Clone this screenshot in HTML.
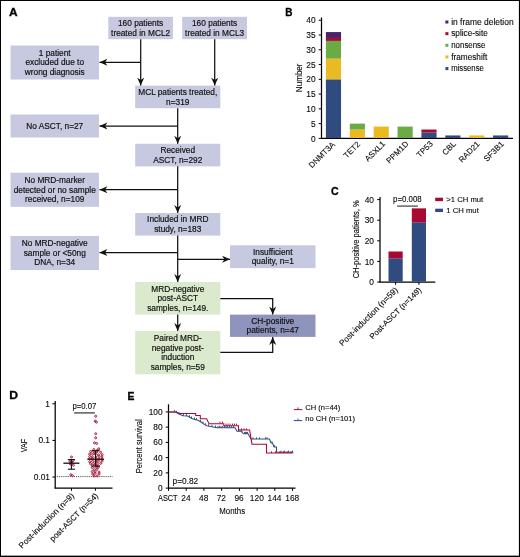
<!DOCTYPE html>
<html lang="en"><head><meta charset="utf-8"><title>Figure</title>
<style>html,body{margin:0;padding:0;background:#fff}svg{display:block}text{font-family:"Liberation Sans", sans-serif}</style>
</head><body>
<svg width="520" height="557" viewBox="0 0 520 557" font-family='"Liberation Sans", sans-serif'>
<rect x="0" y="0" width="520" height="557" fill="#fff"/>
<rect x="0.00" y="0.00" width="520.00" height="1.00" fill="#000"/>
<rect x="0.00" y="0.00" width="1.00" height="557.00" fill="#000"/>
<rect x="518.90" y="0.00" width="1.10" height="557.00" fill="#000"/>
<rect x="0.00" y="555.65" width="520.00" height="1.35" fill="#000"/>
<text x="0" y="0" transform="translate(8.90 16.30) scale(1.08 1)" font-size="11.05" text-anchor="start" font-weight="bold" fill="#000" stroke="#000" stroke-width="0.3">A</text>
<text x="0" y="0" transform="translate(285.30 16.05) scale(0.905 1)" font-size="11.05" text-anchor="start" font-weight="bold" fill="#000" stroke="#000" stroke-width="0.3">B</text>
<text x="0" y="0" transform="translate(331.00 194.90) scale(0.96 1)" font-size="11.05" text-anchor="start" font-weight="bold" fill="#000" stroke="#000" stroke-width="0.3">C</text>
<text x="0" y="0" transform="translate(9.25 399.40) scale(1.1 1)" font-size="11.05" text-anchor="start" font-weight="bold" fill="#000" stroke="#000" stroke-width="0.3">D</text>
<text x="0" y="0" transform="translate(127.50 399.70) scale(0.94 1)" font-size="11.05" text-anchor="start" font-weight="bold" fill="#000" stroke="#000" stroke-width="0.3">E</text>
<rect x="108.30" y="16.80" width="64.60" height="22.40" fill="#c6c9df"/>
<text x="140.60" y="26.18" font-size="8.3" text-anchor="middle" font-weight="normal" fill="#111" stroke="#111" stroke-width="0.18">160 patients</text>
<text x="140.60" y="35.63" font-size="8.3" text-anchor="middle" font-weight="normal" fill="#111" stroke="#111" stroke-width="0.18">treated in MCL2</text>
<rect x="182.20" y="16.80" width="64.80" height="22.40" fill="#c6c9df"/>
<text x="214.60" y="26.18" font-size="8.3" text-anchor="middle" font-weight="normal" fill="#111" stroke="#111" stroke-width="0.18">160 patients</text>
<text x="214.60" y="35.63" font-size="8.3" text-anchor="middle" font-weight="normal" fill="#111" stroke="#111" stroke-width="0.18">treated in MCL3</text>
<rect x="10.50" y="45.50" width="88.50" height="34.00" fill="#c6c9df"/>
<text x="54.75" y="55.95" font-size="8.3" text-anchor="middle" font-weight="normal" fill="#111" stroke="#111" stroke-width="0.18">1 patient</text>
<text x="54.75" y="65.41" font-size="8.3" text-anchor="middle" font-weight="normal" fill="#111" stroke="#111" stroke-width="0.18">excluded due to</text>
<text x="54.75" y="74.86" font-size="8.3" text-anchor="middle" font-weight="normal" fill="#111" stroke="#111" stroke-width="0.18">wrong diagnosis</text>
<rect x="135.20" y="85.60" width="85.10" height="22.60" fill="#c6c9df"/>
<text x="177.75" y="95.08" font-size="8.3" text-anchor="middle" font-weight="normal" fill="#111" stroke="#111" stroke-width="0.18">MCL patients treated,</text>
<text x="177.75" y="104.53" font-size="8.3" text-anchor="middle" font-weight="normal" fill="#111" stroke="#111" stroke-width="0.18">n=319</text>
<rect x="10.50" y="114.50" width="88.50" height="23.00" fill="#c6c9df"/>
<text x="54.75" y="128.91" font-size="8.3" text-anchor="middle" font-weight="normal" fill="#111" stroke="#111" stroke-width="0.18">No ASCT, n=27</text>
<rect x="135.20" y="143.75" width="85.10" height="22.65" fill="#c6c9df"/>
<text x="177.75" y="153.25" font-size="8.3" text-anchor="middle" font-weight="normal" fill="#111" stroke="#111" stroke-width="0.18">Received</text>
<text x="177.75" y="162.70" font-size="8.3" text-anchor="middle" font-weight="normal" fill="#111" stroke="#111" stroke-width="0.18">ASCT, n=292</text>
<rect x="10.50" y="172.70" width="88.50" height="34.10" fill="#c6c9df"/>
<text x="54.75" y="183.21" font-size="8.3" text-anchor="middle" font-weight="normal" fill="#111" stroke="#111" stroke-width="0.18">No MRD-marker</text>
<text x="54.75" y="192.66" font-size="8.3" text-anchor="middle" font-weight="normal" fill="#111" stroke="#111" stroke-width="0.18">detected or no sample</text>
<text x="54.75" y="202.10" font-size="8.3" text-anchor="middle" font-weight="normal" fill="#111" stroke="#111" stroke-width="0.18">received, n=109</text>
<rect x="135.20" y="213.00" width="85.10" height="22.60" fill="#c6c9df"/>
<text x="177.75" y="222.48" font-size="8.3" text-anchor="middle" font-weight="normal" fill="#111" stroke="#111" stroke-width="0.18">Included in MRD</text>
<text x="177.75" y="231.93" font-size="8.3" text-anchor="middle" font-weight="normal" fill="#111" stroke="#111" stroke-width="0.18">study, n=183</text>
<rect x="10.50" y="236.00" width="88.50" height="34.00" fill="#c6c9df"/>
<text x="54.75" y="246.46" font-size="8.3" text-anchor="middle" font-weight="normal" fill="#111" stroke="#111" stroke-width="0.18">No MRD-negative</text>
<text x="54.75" y="255.91" font-size="8.3" text-anchor="middle" font-weight="normal" fill="#111" stroke="#111" stroke-width="0.18">sample or &lt;50ng</text>
<text x="54.75" y="265.35" font-size="8.3" text-anchor="middle" font-weight="normal" fill="#111" stroke="#111" stroke-width="0.18">DNA, n=34</text>
<rect x="230.00" y="245.30" width="85.50" height="22.80" fill="#c6c9df"/>
<text x="272.75" y="254.88" font-size="8.3" text-anchor="middle" font-weight="normal" fill="#111" stroke="#111" stroke-width="0.18">Insufficient</text>
<text x="272.75" y="264.33" font-size="8.3" text-anchor="middle" font-weight="normal" fill="#111" stroke="#111" stroke-width="0.18">quality, n=1</text>
<rect x="135.20" y="282.00" width="85.10" height="32.60" fill="#dbe9cd"/>
<text x="177.75" y="291.75" font-size="8.3" text-anchor="middle" font-weight="normal" fill="#111" stroke="#111" stroke-width="0.18">MRD-negative</text>
<text x="177.75" y="301.20" font-size="8.3" text-anchor="middle" font-weight="normal" fill="#111" stroke="#111" stroke-width="0.18">post-ASCT</text>
<text x="177.75" y="310.65" font-size="8.3" text-anchor="middle" font-weight="normal" fill="#111" stroke="#111" stroke-width="0.18">samples, n=149.</text>
<rect x="230.00" y="314.60" width="85.50" height="22.30" fill="#8f94bc"/>
<text x="272.75" y="323.93" font-size="8.3" text-anchor="middle" font-weight="normal" fill="#111" stroke="#111" stroke-width="0.18">CH-positive</text>
<text x="272.75" y="333.38" font-size="8.3" text-anchor="middle" font-weight="normal" fill="#111" stroke="#111" stroke-width="0.18">patients, n=47</text>
<rect x="135.20" y="331.00" width="85.10" height="43.30" fill="#dbe9cd"/>
<text x="177.75" y="341.38" font-size="8.3" text-anchor="middle" font-weight="normal" fill="#111" stroke="#111" stroke-width="0.18">Paired MRD-</text>
<text x="177.75" y="350.83" font-size="8.3" text-anchor="middle" font-weight="normal" fill="#111" stroke="#111" stroke-width="0.18">negative post-</text>
<text x="177.75" y="360.28" font-size="8.3" text-anchor="middle" font-weight="normal" fill="#111" stroke="#111" stroke-width="0.18">induction</text>
<text x="177.75" y="369.73" font-size="8.3" text-anchor="middle" font-weight="normal" fill="#111" stroke="#111" stroke-width="0.18">samples, n=59</text>
<path d="M140.70 39.20 L140.70 85.60" stroke="#111" stroke-width="1.25" fill="none"/>
<path d="M140.70 85.60 L137.20 77.70 L140.70 80.00 L144.20 77.70Z" fill="#111"/>
<path d="M214.70 39.20 L214.70 85.60" stroke="#111" stroke-width="1.25" fill="none"/>
<path d="M214.70 85.60 L211.20 77.70 L214.70 80.00 L218.20 77.70Z" fill="#111"/>
<path d="M140.70 62.30 L99.50 62.30" stroke="#111" stroke-width="1.25" fill="none"/>
<path d="M99.50 62.30 L107.40 58.80 L105.10 62.30 L107.40 65.80Z" fill="#111"/>
<path d="M177.70 108.20 L177.70 143.75" stroke="#111" stroke-width="1.25" fill="none"/>
<path d="M177.70 143.75 L174.20 135.85 L177.70 138.15 L181.20 135.85Z" fill="#111"/>
<path d="M177.70 126.00 L99.50 126.00" stroke="#111" stroke-width="1.25" fill="none"/>
<path d="M99.50 126.00 L107.40 122.50 L105.10 126.00 L107.40 129.50Z" fill="#111"/>
<path d="M177.70 166.30 L177.70 213.00" stroke="#111" stroke-width="1.25" fill="none"/>
<path d="M177.70 213.00 L174.20 205.10 L177.70 207.40 L181.20 205.10Z" fill="#111"/>
<path d="M177.70 189.70 L99.50 189.70" stroke="#111" stroke-width="1.25" fill="none"/>
<path d="M99.50 189.70 L107.40 186.20 L105.10 189.70 L107.40 193.20Z" fill="#111"/>
<path d="M177.70 235.60 L177.70 282.00" stroke="#111" stroke-width="1.25" fill="none"/>
<path d="M177.70 282.00 L174.20 274.10 L177.70 276.40 L181.20 274.10Z" fill="#111"/>
<path d="M177.70 252.60 L99.50 252.60" stroke="#111" stroke-width="1.25" fill="none"/>
<path d="M99.50 252.60 L107.40 249.10 L105.10 252.60 L107.40 256.10Z" fill="#111"/>
<path d="M177.70 259.30 L230.00 259.30" stroke="#111" stroke-width="1.25" fill="none"/>
<path d="M230.00 259.30 L222.10 262.80 L224.40 259.30 L222.10 255.80Z" fill="#111"/>
<path d="M177.70 314.60 L177.70 331.00" stroke="#111" stroke-width="1.25" fill="none"/>
<path d="M177.70 331.00 L174.20 323.10 L177.70 325.40 L181.20 323.10Z" fill="#111"/>
<path d="M220.30 298.70 L272.70 298.70 L272.70 314.60" stroke="#111" stroke-width="1.25" fill="none"/>
<path d="M272.70 314.60 L269.20 306.70 L272.70 309.00 L276.20 306.70Z" fill="#111"/>
<path d="M220.30 352.30 L272.70 352.30 L272.70 337.00" stroke="#111" stroke-width="1.25" fill="none"/>
<path d="M272.70 337.00 L276.20 344.90 L272.70 342.60 L269.20 344.90Z" fill="#111"/>
<line x1="321.50" y1="17.50" x2="321.50" y2="138.90" stroke="#000" stroke-width="1.25"/>
<line x1="321.00" y1="138.40" x2="513.00" y2="138.40" stroke="#000" stroke-width="1.25"/>
<line x1="318.70" y1="138.40" x2="321.50" y2="138.40" stroke="#000" stroke-width="1"/>
<text x="0" y="0" transform="translate(315.60 141.50) scale(0.94 1)" font-size="8.9" text-anchor="end" font-weight="normal" fill="#0a0a0a" stroke="#0a0a0a" stroke-width="0.12">0</text>
<line x1="318.70" y1="123.63" x2="321.50" y2="123.63" stroke="#000" stroke-width="1"/>
<text x="0" y="0" transform="translate(315.60 126.73) scale(0.94 1)" font-size="8.9" text-anchor="end" font-weight="normal" fill="#0a0a0a" stroke="#0a0a0a" stroke-width="0.12">5</text>
<line x1="318.70" y1="108.86" x2="321.50" y2="108.86" stroke="#000" stroke-width="1"/>
<text x="0" y="0" transform="translate(315.60 111.96) scale(0.94 1)" font-size="8.9" text-anchor="end" font-weight="normal" fill="#0a0a0a" stroke="#0a0a0a" stroke-width="0.12">10</text>
<line x1="318.70" y1="94.09" x2="321.50" y2="94.09" stroke="#000" stroke-width="1"/>
<text x="0" y="0" transform="translate(315.60 97.19) scale(0.94 1)" font-size="8.9" text-anchor="end" font-weight="normal" fill="#0a0a0a" stroke="#0a0a0a" stroke-width="0.12">15</text>
<line x1="318.70" y1="79.32" x2="321.50" y2="79.32" stroke="#000" stroke-width="1"/>
<text x="0" y="0" transform="translate(315.60 82.42) scale(0.94 1)" font-size="8.9" text-anchor="end" font-weight="normal" fill="#0a0a0a" stroke="#0a0a0a" stroke-width="0.12">20</text>
<line x1="318.70" y1="64.55" x2="321.50" y2="64.55" stroke="#000" stroke-width="1"/>
<text x="0" y="0" transform="translate(315.60 67.65) scale(0.94 1)" font-size="8.9" text-anchor="end" font-weight="normal" fill="#0a0a0a" stroke="#0a0a0a" stroke-width="0.12">25</text>
<line x1="318.70" y1="49.78" x2="321.50" y2="49.78" stroke="#000" stroke-width="1"/>
<text x="0" y="0" transform="translate(315.60 52.88) scale(0.94 1)" font-size="8.9" text-anchor="end" font-weight="normal" fill="#0a0a0a" stroke="#0a0a0a" stroke-width="0.12">30</text>
<line x1="318.70" y1="35.01" x2="321.50" y2="35.01" stroke="#000" stroke-width="1"/>
<text x="0" y="0" transform="translate(315.60 38.11) scale(0.94 1)" font-size="8.9" text-anchor="end" font-weight="normal" fill="#0a0a0a" stroke="#0a0a0a" stroke-width="0.12">35</text>
<line x1="318.70" y1="20.24" x2="321.50" y2="20.24" stroke="#000" stroke-width="1"/>
<text x="0" y="0" transform="translate(315.60 23.34) scale(0.94 1)" font-size="8.9" text-anchor="end" font-weight="normal" fill="#0a0a0a" stroke="#0a0a0a" stroke-width="0.12">40</text>
<text x="0" y="0" transform="translate(301.80 77.80) rotate(-90) scale(0.85 1)" font-size="9.5" text-anchor="middle" font-weight="normal" fill="#0a0a0a" stroke="#0a0a0a" stroke-width="0.12">Number</text>
<rect x="325.90" y="79.32" width="15.15" height="58.68" fill="#2f4b7f"/>
<rect x="325.90" y="58.64" width="15.15" height="20.68" fill="#e9ba22"/>
<rect x="325.90" y="40.92" width="15.15" height="17.72" fill="#6bab46"/>
<rect x="325.90" y="37.96" width="15.15" height="2.95" fill="#a9082f"/>
<rect x="325.90" y="32.06" width="15.15" height="5.91" fill="#4c2169"/>
<text x="0" y="0" transform="translate(335.50 145.10) rotate(-45)" font-size="8.05" text-anchor="end" font-weight="normal" fill="#0a0a0a" stroke="#0a0a0a" stroke-width="0.12">DNMT3A</text>
<rect x="349.78" y="129.54" width="15.15" height="8.46" fill="#e9ba22"/>
<rect x="349.78" y="123.63" width="15.15" height="5.91" fill="#6bab46"/>
<text x="0" y="0" transform="translate(360.58 144.74) rotate(-45)" font-size="8.05" text-anchor="end" font-weight="normal" fill="#0a0a0a" stroke="#0a0a0a" stroke-width="0.12">TET2</text>
<rect x="373.66" y="126.58" width="15.15" height="11.42" fill="#e9ba22"/>
<text x="0" y="0" transform="translate(385.76 144.35) rotate(-45)" font-size="8.05" text-anchor="end" font-weight="normal" fill="#0a0a0a" stroke="#0a0a0a" stroke-width="0.12">ASXL1</text>
<rect x="397.54" y="126.58" width="15.15" height="11.42" fill="#6bab46"/>
<text x="0" y="0" transform="translate(409.14 144.50) rotate(-45)" font-size="8.05" text-anchor="end" font-weight="normal" fill="#0a0a0a" stroke="#0a0a0a" stroke-width="0.12">PPM1D</text>
<rect x="421.42" y="132.49" width="15.15" height="5.51" fill="#2f4b7f"/>
<rect x="421.42" y="129.54" width="15.15" height="2.95" fill="#a9082f"/>
<text x="0" y="0" transform="translate(433.32 144.41) rotate(-45)" font-size="8.05" text-anchor="end" font-weight="normal" fill="#0a0a0a" stroke="#0a0a0a" stroke-width="0.12">TP53</text>
<rect x="445.30" y="135.45" width="15.15" height="2.55" fill="#2f4b7f"/>
<text x="0" y="0" transform="translate(456.50 144.62) rotate(-45)" font-size="8.05" text-anchor="end" font-weight="normal" fill="#0a0a0a" stroke="#0a0a0a" stroke-width="0.12">CBL</text>
<rect x="469.18" y="135.45" width="15.15" height="2.55" fill="#e9ba22"/>
<text x="0" y="0" transform="translate(480.28 144.65) rotate(-45)" font-size="8.05" text-anchor="end" font-weight="normal" fill="#0a0a0a" stroke="#0a0a0a" stroke-width="0.12">RAD21</text>
<rect x="493.06" y="135.45" width="15.15" height="2.55" fill="#2f4b7f"/>
<text x="0" y="0" transform="translate(504.46 144.56) rotate(-45)" font-size="8.05" text-anchor="end" font-weight="normal" fill="#0a0a0a" stroke="#0a0a0a" stroke-width="0.12">SF3B1</text>
<rect x="445.40" y="20.50" width="3.00" height="3.00" fill="#4c2169"/>
<text x="0" y="0" transform="translate(451.20 24.80) scale(1.0 1)" font-size="8.45" text-anchor="start" font-weight="normal" fill="#0a0a0a" stroke="#0a0a0a" stroke-width="0.12">in frame deletion</text>
<rect x="445.40" y="32.15" width="3.00" height="3.00" fill="#a9082f"/>
<text x="0" y="0" transform="translate(451.20 36.45) scale(0.975 1)" font-size="8.45" text-anchor="start" font-weight="normal" fill="#0a0a0a" stroke="#0a0a0a" stroke-width="0.12">splice-site</text>
<rect x="445.40" y="43.80" width="3.00" height="3.00" fill="#6bab46"/>
<text x="0" y="0" transform="translate(451.20 48.10) scale(0.936 1)" font-size="8.45" text-anchor="start" font-weight="normal" fill="#0a0a0a" stroke="#0a0a0a" stroke-width="0.12">nonsense</text>
<rect x="445.40" y="55.45" width="3.00" height="3.00" fill="#e9ba22"/>
<text x="0" y="0" transform="translate(451.20 59.75) scale(0.975 1)" font-size="8.45" text-anchor="start" font-weight="normal" fill="#0a0a0a" stroke="#0a0a0a" stroke-width="0.12">frameshift</text>
<rect x="445.40" y="67.10" width="3.00" height="3.00" fill="#2f4b7f"/>
<text x="0" y="0" transform="translate(451.20 71.40) scale(0.915 1)" font-size="8.45" text-anchor="start" font-weight="normal" fill="#0a0a0a" stroke="#0a0a0a" stroke-width="0.12">missense</text>
<line x1="380.00" y1="196.90" x2="380.00" y2="282.50" stroke="#000" stroke-width="1.25"/>
<line x1="379.50" y1="282.00" x2="435.30" y2="282.00" stroke="#000" stroke-width="1.25"/>
<line x1="377.20" y1="282.00" x2="380.00" y2="282.00" stroke="#000" stroke-width="1"/>
<text x="0" y="0" transform="translate(374.00 285.10) scale(0.94 1)" font-size="8.9" text-anchor="end" font-weight="normal" fill="#0a0a0a" stroke="#0a0a0a" stroke-width="0.12">0</text>
<line x1="377.20" y1="261.40" x2="380.00" y2="261.40" stroke="#000" stroke-width="1"/>
<text x="0" y="0" transform="translate(374.00 264.50) scale(0.94 1)" font-size="8.9" text-anchor="end" font-weight="normal" fill="#0a0a0a" stroke="#0a0a0a" stroke-width="0.12">10</text>
<line x1="377.20" y1="240.80" x2="380.00" y2="240.80" stroke="#000" stroke-width="1"/>
<text x="0" y="0" transform="translate(374.00 243.90) scale(0.94 1)" font-size="8.9" text-anchor="end" font-weight="normal" fill="#0a0a0a" stroke="#0a0a0a" stroke-width="0.12">20</text>
<line x1="377.20" y1="220.20" x2="380.00" y2="220.20" stroke="#000" stroke-width="1"/>
<text x="0" y="0" transform="translate(374.00 223.30) scale(0.94 1)" font-size="8.9" text-anchor="end" font-weight="normal" fill="#0a0a0a" stroke="#0a0a0a" stroke-width="0.12">30</text>
<line x1="377.20" y1="199.60" x2="380.00" y2="199.60" stroke="#000" stroke-width="1"/>
<text x="0" y="0" transform="translate(374.00 202.70) scale(0.94 1)" font-size="8.9" text-anchor="end" font-weight="normal" fill="#0a0a0a" stroke="#0a0a0a" stroke-width="0.12">40</text>
<text x="0" y="0" transform="translate(358.50 239.30) rotate(-90) scale(0.79 1)" font-size="9.5" text-anchor="middle" font-weight="normal" fill="#0a0a0a" stroke="#0a0a0a" stroke-width="0.12">CH-positive patients, %</text>
<rect x="388.50" y="258.31" width="14.20" height="23.29" fill="#2f4b7f"/>
<rect x="388.50" y="251.51" width="14.20" height="6.80" fill="#a9082f"/>
<line x1="395.60" y1="282.00" x2="395.60" y2="284.80" stroke="#000" stroke-width="1"/>
<text x="0" y="0" transform="translate(398.50 290.60) rotate(-45)" font-size="8.3" text-anchor="end" font-weight="normal" fill="#0a0a0a" stroke="#0a0a0a" stroke-width="0.12">Post-induction (n=59)</text>
<rect x="411.80" y="222.26" width="14.20" height="59.34" fill="#2f4b7f"/>
<rect x="411.80" y="208.36" width="14.20" height="13.90" fill="#a9082f"/>
<line x1="418.90" y1="282.00" x2="418.90" y2="284.80" stroke="#000" stroke-width="1"/>
<text x="0" y="0" transform="translate(421.80 290.60) rotate(-45)" font-size="7.95" text-anchor="end" font-weight="normal" fill="#0a0a0a" stroke="#0a0a0a" stroke-width="0.12">Post-ASCT (n=149)</text>
<text x="0" y="0" transform="translate(407.40 202.20) scale(0.935 1)" font-size="8.4" text-anchor="middle" font-weight="normal" fill="#0a0a0a" stroke="#0a0a0a" stroke-width="0.12">p=0.008</text>
<line x1="397.10" y1="206.10" x2="417.90" y2="206.10" stroke="#5a5a5a" stroke-width="1.4"/>
<rect x="435.20" y="197.70" width="7.80" height="3.40" fill="#a9082f"/>
<text x="446.30" y="202.20" font-size="7.7" text-anchor="start" font-weight="normal" fill="#0a0a0a" stroke="#0a0a0a" stroke-width="0.12">&gt;1 CH mut</text>
<rect x="435.20" y="208.70" width="7.80" height="3.30" fill="#2f4b7f"/>
<text x="446.30" y="213.00" font-size="7.7" text-anchor="start" font-weight="normal" fill="#0a0a0a" stroke="#0a0a0a" stroke-width="0.12">1 CH mut</text>
<line x1="55.20" y1="401.00" x2="55.20" y2="488.50" stroke="#000" stroke-width="1.25"/>
<line x1="54.70" y1="488.00" x2="112.50" y2="488.00" stroke="#000" stroke-width="1.25"/>
<line x1="52.40" y1="403.80" x2="55.20" y2="403.80" stroke="#000" stroke-width="1"/>
<text x="0" y="0" transform="translate(50.00 406.50) scale(0.94 1)" font-size="8.9" text-anchor="end" font-weight="normal" fill="#0a0a0a" stroke="#0a0a0a" stroke-width="0.12">1</text>
<line x1="52.40" y1="440.40" x2="55.20" y2="440.40" stroke="#000" stroke-width="1"/>
<text x="0" y="0" transform="translate(50.00 443.10) scale(0.94 1)" font-size="8.9" text-anchor="end" font-weight="normal" fill="#0a0a0a" stroke="#0a0a0a" stroke-width="0.12">0.1</text>
<line x1="52.40" y1="477.00" x2="55.20" y2="477.00" stroke="#000" stroke-width="1"/>
<text x="0" y="0" transform="translate(50.00 479.70) scale(0.94 1)" font-size="8.9" text-anchor="end" font-weight="normal" fill="#0a0a0a" stroke="#0a0a0a" stroke-width="0.12">0.01</text>
<line x1="57.00" y1="476.60" x2="112.50" y2="476.60" stroke="#333" stroke-width="1.0" stroke-dasharray="0.9 1.0"/>
<text x="0" y="0" transform="translate(26.90 445.50) rotate(-90) scale(0.78 1)" font-size="9.3" text-anchor="middle" font-weight="normal" fill="#0a0a0a" stroke="#0a0a0a" stroke-width="0.12">VAF</text>
<circle cx="71.50" cy="457.00" r="1.0" fill="#f3c9d2" fill-opacity="0.4" stroke="#a50d30" stroke-width="0.9"/>
<circle cx="70.10" cy="461.30" r="1.0" fill="#f3c9d2" fill-opacity="0.4" stroke="#a50d30" stroke-width="0.9"/>
<circle cx="73.00" cy="460.70" r="1.0" fill="#f3c9d2" fill-opacity="0.4" stroke="#a50d30" stroke-width="0.9"/>
<circle cx="71.10" cy="462.50" r="1.0" fill="#f3c9d2" fill-opacity="0.4" stroke="#a50d30" stroke-width="0.9"/>
<circle cx="73.40" cy="465.30" r="1.0" fill="#f3c9d2" fill-opacity="0.4" stroke="#a50d30" stroke-width="0.9"/>
<circle cx="70.80" cy="474.70" r="1.0" fill="#f3c9d2" fill-opacity="0.4" stroke="#a50d30" stroke-width="0.9"/>
<circle cx="72.50" cy="475.70" r="1.0" fill="#f3c9d2" fill-opacity="0.4" stroke="#a50d30" stroke-width="0.9"/>
<circle cx="70.40" cy="464.00" r="1.0" fill="#f3c9d2" fill-opacity="0.4" stroke="#a50d30" stroke-width="0.9"/>
<circle cx="72.20" cy="463.20" r="1.0" fill="#f3c9d2" fill-opacity="0.4" stroke="#a50d30" stroke-width="0.9"/>
<circle cx="95.70" cy="416.20" r="1.0" fill="#f3c9d2" fill-opacity="0.4" stroke="#a50d30" stroke-width="0.9"/>
<circle cx="95.20" cy="421.10" r="1.0" fill="#f3c9d2" fill-opacity="0.4" stroke="#a50d30" stroke-width="0.9"/>
<circle cx="96.40" cy="422.20" r="1.0" fill="#f3c9d2" fill-opacity="0.4" stroke="#a50d30" stroke-width="0.9"/>
<circle cx="95.70" cy="433.70" r="1.0" fill="#f3c9d2" fill-opacity="0.4" stroke="#a50d30" stroke-width="0.9"/>
<circle cx="95.70" cy="437.80" r="1.0" fill="#f3c9d2" fill-opacity="0.4" stroke="#a50d30" stroke-width="0.9"/>
<circle cx="94.50" cy="442.80" r="1.0" fill="#f3c9d2" fill-opacity="0.4" stroke="#a50d30" stroke-width="0.9"/>
<circle cx="96.70" cy="443.50" r="1.0" fill="#f3c9d2" fill-opacity="0.4" stroke="#a50d30" stroke-width="0.9"/>
<circle cx="98.80" cy="448.80" r="1.0" fill="#f3c9d2" fill-opacity="0.4" stroke="#a50d30" stroke-width="0.9"/>
<circle cx="93.80" cy="449.50" r="1.0" fill="#f3c9d2" fill-opacity="0.4" stroke="#a50d30" stroke-width="0.9"/>
<circle cx="97.40" cy="450.30" r="1.0" fill="#f3c9d2" fill-opacity="0.4" stroke="#a50d30" stroke-width="0.9"/>
<circle cx="90.69" cy="451.60" r="1.0" fill="#f3c9d2" fill-opacity="0.4" stroke="#a50d30" stroke-width="0.9"/>
<circle cx="93.95" cy="451.65" r="1.0" fill="#f3c9d2" fill-opacity="0.4" stroke="#a50d30" stroke-width="0.9"/>
<circle cx="96.72" cy="451.90" r="1.0" fill="#f3c9d2" fill-opacity="0.4" stroke="#a50d30" stroke-width="0.9"/>
<circle cx="100.67" cy="452.30" r="1.0" fill="#f3c9d2" fill-opacity="0.4" stroke="#a50d30" stroke-width="0.9"/>
<circle cx="89.67" cy="454.12" r="1.0" fill="#f3c9d2" fill-opacity="0.4" stroke="#a50d30" stroke-width="0.9"/>
<circle cx="92.54" cy="454.18" r="1.0" fill="#f3c9d2" fill-opacity="0.4" stroke="#a50d30" stroke-width="0.9"/>
<circle cx="95.27" cy="454.01" r="1.0" fill="#f3c9d2" fill-opacity="0.4" stroke="#a50d30" stroke-width="0.9"/>
<circle cx="98.41" cy="454.83" r="1.0" fill="#f3c9d2" fill-opacity="0.4" stroke="#a50d30" stroke-width="0.9"/>
<circle cx="102.13" cy="454.71" r="1.0" fill="#f3c9d2" fill-opacity="0.4" stroke="#a50d30" stroke-width="0.9"/>
<circle cx="89.70" cy="456.49" r="1.0" fill="#f3c9d2" fill-opacity="0.4" stroke="#a50d30" stroke-width="0.9"/>
<circle cx="92.31" cy="456.93" r="1.0" fill="#f3c9d2" fill-opacity="0.4" stroke="#a50d30" stroke-width="0.9"/>
<circle cx="95.83" cy="457.15" r="1.0" fill="#f3c9d2" fill-opacity="0.4" stroke="#a50d30" stroke-width="0.9"/>
<circle cx="99.08" cy="456.39" r="1.0" fill="#f3c9d2" fill-opacity="0.4" stroke="#a50d30" stroke-width="0.9"/>
<circle cx="101.91" cy="456.97" r="1.0" fill="#f3c9d2" fill-opacity="0.4" stroke="#a50d30" stroke-width="0.9"/>
<circle cx="89.41" cy="458.88" r="1.0" fill="#f3c9d2" fill-opacity="0.4" stroke="#a50d30" stroke-width="0.9"/>
<circle cx="92.47" cy="458.79" r="1.0" fill="#f3c9d2" fill-opacity="0.4" stroke="#a50d30" stroke-width="0.9"/>
<circle cx="96.03" cy="459.57" r="1.0" fill="#f3c9d2" fill-opacity="0.4" stroke="#a50d30" stroke-width="0.9"/>
<circle cx="98.75" cy="459.00" r="1.0" fill="#f3c9d2" fill-opacity="0.4" stroke="#a50d30" stroke-width="0.9"/>
<circle cx="102.21" cy="459.27" r="1.0" fill="#f3c9d2" fill-opacity="0.4" stroke="#a50d30" stroke-width="0.9"/>
<circle cx="89.78" cy="461.75" r="1.0" fill="#f3c9d2" fill-opacity="0.4" stroke="#a50d30" stroke-width="0.9"/>
<circle cx="92.51" cy="461.31" r="1.0" fill="#f3c9d2" fill-opacity="0.4" stroke="#a50d30" stroke-width="0.9"/>
<circle cx="95.70" cy="461.33" r="1.0" fill="#f3c9d2" fill-opacity="0.4" stroke="#a50d30" stroke-width="0.9"/>
<circle cx="98.36" cy="461.21" r="1.0" fill="#f3c9d2" fill-opacity="0.4" stroke="#a50d30" stroke-width="0.9"/>
<circle cx="102.11" cy="460.94" r="1.0" fill="#f3c9d2" fill-opacity="0.4" stroke="#a50d30" stroke-width="0.9"/>
<circle cx="90.50" cy="463.73" r="1.0" fill="#f3c9d2" fill-opacity="0.4" stroke="#a50d30" stroke-width="0.9"/>
<circle cx="93.83" cy="463.63" r="1.0" fill="#f3c9d2" fill-opacity="0.4" stroke="#a50d30" stroke-width="0.9"/>
<circle cx="97.12" cy="463.44" r="1.0" fill="#f3c9d2" fill-opacity="0.4" stroke="#a50d30" stroke-width="0.9"/>
<circle cx="100.75" cy="463.30" r="1.0" fill="#f3c9d2" fill-opacity="0.4" stroke="#a50d30" stroke-width="0.9"/>
<circle cx="92.41" cy="465.30" r="1.0" fill="#f3c9d2" fill-opacity="0.4" stroke="#a50d30" stroke-width="0.9"/>
<circle cx="95.73" cy="465.38" r="1.0" fill="#f3c9d2" fill-opacity="0.4" stroke="#a50d30" stroke-width="0.9"/>
<circle cx="98.56" cy="465.85" r="1.0" fill="#f3c9d2" fill-opacity="0.4" stroke="#a50d30" stroke-width="0.9"/>
<circle cx="92.32" cy="467.66" r="1.0" fill="#f3c9d2" fill-opacity="0.4" stroke="#a50d30" stroke-width="0.9"/>
<circle cx="96.00" cy="467.20" r="1.0" fill="#f3c9d2" fill-opacity="0.4" stroke="#a50d30" stroke-width="0.9"/>
<circle cx="98.26" cy="467.33" r="1.0" fill="#f3c9d2" fill-opacity="0.4" stroke="#a50d30" stroke-width="0.9"/>
<circle cx="94.32" cy="469.72" r="1.0" fill="#f3c9d2" fill-opacity="0.4" stroke="#a50d30" stroke-width="0.9"/>
<circle cx="96.89" cy="469.43" r="1.0" fill="#f3c9d2" fill-opacity="0.4" stroke="#a50d30" stroke-width="0.9"/>
<circle cx="92.18" cy="471.56" r="1.0" fill="#f3c9d2" fill-opacity="0.4" stroke="#a50d30" stroke-width="0.9"/>
<circle cx="95.14" cy="471.80" r="1.0" fill="#f3c9d2" fill-opacity="0.4" stroke="#a50d30" stroke-width="0.9"/>
<circle cx="99.10" cy="472.05" r="1.0" fill="#f3c9d2" fill-opacity="0.4" stroke="#a50d30" stroke-width="0.9"/>
<circle cx="92.73" cy="474.06" r="1.0" fill="#f3c9d2" fill-opacity="0.4" stroke="#a50d30" stroke-width="0.9"/>
<circle cx="95.12" cy="473.39" r="1.0" fill="#f3c9d2" fill-opacity="0.4" stroke="#a50d30" stroke-width="0.9"/>
<circle cx="99.17" cy="473.88" r="1.0" fill="#f3c9d2" fill-opacity="0.4" stroke="#a50d30" stroke-width="0.9"/>
<circle cx="93.96" cy="476.04" r="1.0" fill="#f3c9d2" fill-opacity="0.4" stroke="#a50d30" stroke-width="0.9"/>
<circle cx="97.27" cy="475.92" r="1.0" fill="#f3c9d2" fill-opacity="0.4" stroke="#a50d30" stroke-width="0.9"/>
<line x1="63.40" y1="463.20" x2="79.40" y2="463.20" stroke="#111" stroke-width="1.3"/>
<line x1="71.40" y1="459.60" x2="71.40" y2="469.20" stroke="#111" stroke-width="1.1"/>
<line x1="67.80" y1="459.60" x2="75.00" y2="459.60" stroke="#111" stroke-width="1.1"/>
<line x1="67.80" y1="469.20" x2="75.00" y2="469.20" stroke="#111" stroke-width="1.1"/>
<line x1="87.30" y1="459.20" x2="103.90" y2="459.20" stroke="#111" stroke-width="1.3"/>
<line x1="95.60" y1="450.70" x2="95.60" y2="466.10" stroke="#111" stroke-width="1.1"/>
<line x1="91.60" y1="450.70" x2="99.60" y2="450.70" stroke="#111" stroke-width="1.1"/>
<line x1="91.60" y1="466.10" x2="99.60" y2="466.10" stroke="#111" stroke-width="1.1"/>
<line x1="71.50" y1="488.00" x2="71.50" y2="490.80" stroke="#000" stroke-width="1"/>
<line x1="95.40" y1="488.00" x2="95.40" y2="490.80" stroke="#000" stroke-width="1"/>
<text x="0" y="0" transform="translate(84.40 408.60) scale(0.92 1)" font-size="8.4" text-anchor="middle" font-weight="normal" fill="#0a0a0a" stroke="#0a0a0a" stroke-width="0.12">p=0.07</text>
<line x1="74.10" y1="412.90" x2="94.90" y2="412.90" stroke="#5a5a5a" stroke-width="1.5"/>
<text x="0" y="0" transform="translate(74.70 496.30) rotate(-45)" font-size="8.3" text-anchor="end" font-weight="normal" fill="#0a0a0a" stroke="#0a0a0a" stroke-width="0.12">Post-induction (n=9)</text>
<text x="0" y="0" transform="translate(98.70 496.30) rotate(-45)" font-size="8.0" text-anchor="end" font-weight="normal" fill="#0a0a0a" stroke="#0a0a0a" stroke-width="0.12">post-ASCT (n=54)</text>
<line x1="168.50" y1="404.30" x2="168.50" y2="488.60" stroke="#000" stroke-width="1.25"/>
<line x1="168.00" y1="488.10" x2="295.50" y2="488.10" stroke="#000" stroke-width="1.25"/>
<line x1="165.70" y1="488.10" x2="168.50" y2="488.10" stroke="#000" stroke-width="1"/>
<text x="0" y="0" transform="translate(162.60 491.10) scale(0.94 1)" font-size="8.9" text-anchor="end" font-weight="normal" fill="#0a0a0a" stroke="#0a0a0a" stroke-width="0.12">0</text>
<line x1="165.70" y1="472.86" x2="168.50" y2="472.86" stroke="#000" stroke-width="1"/>
<text x="0" y="0" transform="translate(162.60 475.86) scale(0.94 1)" font-size="8.9" text-anchor="end" font-weight="normal" fill="#0a0a0a" stroke="#0a0a0a" stroke-width="0.12">20</text>
<line x1="165.70" y1="457.62" x2="168.50" y2="457.62" stroke="#000" stroke-width="1"/>
<text x="0" y="0" transform="translate(162.60 460.62) scale(0.94 1)" font-size="8.9" text-anchor="end" font-weight="normal" fill="#0a0a0a" stroke="#0a0a0a" stroke-width="0.12">40</text>
<line x1="165.70" y1="442.38" x2="168.50" y2="442.38" stroke="#000" stroke-width="1"/>
<text x="0" y="0" transform="translate(162.60 445.38) scale(0.94 1)" font-size="8.9" text-anchor="end" font-weight="normal" fill="#0a0a0a" stroke="#0a0a0a" stroke-width="0.12">60</text>
<line x1="165.70" y1="427.14" x2="168.50" y2="427.14" stroke="#000" stroke-width="1"/>
<text x="0" y="0" transform="translate(162.60 430.14) scale(0.94 1)" font-size="8.9" text-anchor="end" font-weight="normal" fill="#0a0a0a" stroke="#0a0a0a" stroke-width="0.12">80</text>
<line x1="165.70" y1="411.90" x2="168.50" y2="411.90" stroke="#000" stroke-width="1"/>
<text x="0" y="0" transform="translate(162.60 414.90) scale(0.94 1)" font-size="8.9" text-anchor="end" font-weight="normal" fill="#0a0a0a" stroke="#0a0a0a" stroke-width="0.12">100</text>
<line x1="168.50" y1="488.10" x2="168.50" y2="490.90" stroke="#000" stroke-width="1"/>
<line x1="186.22" y1="488.10" x2="186.22" y2="490.90" stroke="#000" stroke-width="1"/>
<text x="0" y="0" transform="translate(185.92 501.00) scale(0.94 1)" font-size="8.9" text-anchor="middle" font-weight="normal" fill="#0a0a0a" stroke="#0a0a0a" stroke-width="0.12">24</text>
<line x1="203.95" y1="488.10" x2="203.95" y2="490.90" stroke="#000" stroke-width="1"/>
<text x="0" y="0" transform="translate(203.65 501.00) scale(0.94 1)" font-size="8.9" text-anchor="middle" font-weight="normal" fill="#0a0a0a" stroke="#0a0a0a" stroke-width="0.12">48</text>
<line x1="221.67" y1="488.10" x2="221.67" y2="490.90" stroke="#000" stroke-width="1"/>
<text x="0" y="0" transform="translate(221.37 501.00) scale(0.94 1)" font-size="8.9" text-anchor="middle" font-weight="normal" fill="#0a0a0a" stroke="#0a0a0a" stroke-width="0.12">72</text>
<line x1="239.40" y1="488.10" x2="239.40" y2="490.90" stroke="#000" stroke-width="1"/>
<text x="0" y="0" transform="translate(239.10 501.00) scale(0.94 1)" font-size="8.9" text-anchor="middle" font-weight="normal" fill="#0a0a0a" stroke="#0a0a0a" stroke-width="0.12">96</text>
<line x1="257.12" y1="488.10" x2="257.12" y2="490.90" stroke="#000" stroke-width="1"/>
<text x="0" y="0" transform="translate(256.82 501.00) scale(0.94 1)" font-size="8.9" text-anchor="middle" font-weight="normal" fill="#0a0a0a" stroke="#0a0a0a" stroke-width="0.12">120</text>
<line x1="274.84" y1="488.10" x2="274.84" y2="490.90" stroke="#000" stroke-width="1"/>
<text x="0" y="0" transform="translate(274.54 501.00) scale(0.94 1)" font-size="8.9" text-anchor="middle" font-weight="normal" fill="#0a0a0a" stroke="#0a0a0a" stroke-width="0.12">144</text>
<line x1="292.57" y1="488.10" x2="292.57" y2="490.90" stroke="#000" stroke-width="1"/>
<text x="0" y="0" transform="translate(292.27 501.00) scale(0.94 1)" font-size="8.9" text-anchor="middle" font-weight="normal" fill="#0a0a0a" stroke="#0a0a0a" stroke-width="0.12">168</text>
<text x="0" y="0" transform="translate(167.80 501.00) scale(0.83 1)" font-size="8.9" text-anchor="middle" font-weight="normal" fill="#0a0a0a" stroke="#0a0a0a" stroke-width="0.12">ASCT</text>
<text x="0" y="0" transform="translate(232.20 514.40) scale(0.81 1)" font-size="9.7" text-anchor="middle" font-weight="normal" fill="#0a0a0a" stroke="#0a0a0a" stroke-width="0.12">Months</text>
<text x="0" y="0" transform="translate(142.20 446.30) rotate(-90) scale(0.815 1)" font-size="9.3" text-anchor="middle" font-weight="normal" fill="#0a0a0a" stroke="#0a0a0a" stroke-width="0.12">Percent survival</text>
<text x="172.60" y="484.00" font-size="8.3" text-anchor="start" font-weight="normal" fill="#0a0a0a" stroke="#0a0a0a" stroke-width="0.12">p=0.82</text>
<path d="M168.50 412.00 L175.40 412.00 L179.00 414.00 L183.00 415.80 L187.70 416.00 L192.30 418.80 L198.50 420.50 L201.00 422.00 L204.60 424.60 L207.00 425.80 L210.80 426.50 L217.00 427.70 L235.00 427.70 L237.00 431.20 L241.00 431.20 L243.50 433.80 L248.00 433.80 L251.00 439.00 L269.60 439.00 L271.00 443.00 L272.50 443.00 L274.00 447.00 L276.50 447.00 L276.50 452.30 L293.50 452.30" stroke="#2f4b7f" stroke-width="1.05" fill="none" stroke-linejoin="miter"/>
<path d="M168.50 412.00 L175.40 412.00 L180.00 413.50 L195.70 413.50 L195.70 415.40 L200.30 415.40 L200.30 418.80 L206.60 418.80 L209.00 423.80 L223.80 423.80 L223.80 425.80 L238.50 425.80 L238.50 430.00 L249.60 430.00 L252.00 444.20 L266.50 444.20 L266.50 453.00 L292.70 453.00" stroke="#a9082f" stroke-width="1.05" fill="none" stroke-linejoin="miter"/>
<line x1="220.00" y1="423.30" x2="220.00" y2="421.60" stroke="#a9082f" stroke-width="0.9"/>
<line x1="222.50" y1="423.30" x2="222.50" y2="421.60" stroke="#a9082f" stroke-width="0.9"/>
<line x1="226.00" y1="425.30" x2="226.00" y2="423.60" stroke="#a9082f" stroke-width="0.9"/>
<line x1="228.00" y1="425.30" x2="228.00" y2="423.60" stroke="#a9082f" stroke-width="0.9"/>
<line x1="230.00" y1="425.30" x2="230.00" y2="423.60" stroke="#a9082f" stroke-width="0.9"/>
<line x1="232.50" y1="425.30" x2="232.50" y2="423.60" stroke="#a9082f" stroke-width="0.9"/>
<line x1="234.50" y1="425.30" x2="234.50" y2="423.60" stroke="#a9082f" stroke-width="0.9"/>
<line x1="236.50" y1="425.30" x2="236.50" y2="423.60" stroke="#a9082f" stroke-width="0.9"/>
<line x1="241.50" y1="430.00" x2="241.50" y2="428.30" stroke="#a9082f" stroke-width="0.9"/>
<line x1="244.00" y1="430.00" x2="244.00" y2="428.30" stroke="#a9082f" stroke-width="0.9"/>
<line x1="246.50" y1="430.00" x2="246.50" y2="428.30" stroke="#a9082f" stroke-width="0.9"/>
<line x1="271.50" y1="453.00" x2="271.50" y2="451.30" stroke="#a9082f" stroke-width="0.9"/>
<line x1="275.50" y1="453.00" x2="275.50" y2="451.30" stroke="#a9082f" stroke-width="0.9"/>
<line x1="280.00" y1="453.00" x2="280.00" y2="451.30" stroke="#a9082f" stroke-width="0.9"/>
<line x1="283.50" y1="453.00" x2="283.50" y2="451.30" stroke="#a9082f" stroke-width="0.9"/>
<line x1="287.00" y1="453.00" x2="287.00" y2="451.30" stroke="#a9082f" stroke-width="0.9"/>
<line x1="291.00" y1="453.00" x2="291.00" y2="451.30" stroke="#a9082f" stroke-width="0.9"/>
<line x1="174.50" y1="412.00" x2="174.50" y2="410.10" stroke="#2f4b7f" stroke-width="0.9"/>
<line x1="176.50" y1="412.61" x2="176.50" y2="410.71" stroke="#2f4b7f" stroke-width="0.9"/>
<line x1="179.00" y1="414.00" x2="179.00" y2="412.10" stroke="#2f4b7f" stroke-width="0.9"/>
<line x1="183.50" y1="415.82" x2="183.50" y2="413.92" stroke="#2f4b7f" stroke-width="0.9"/>
<line x1="186.50" y1="415.95" x2="186.50" y2="414.05" stroke="#2f4b7f" stroke-width="0.9"/>
<line x1="189.50" y1="417.10" x2="189.50" y2="415.20" stroke="#2f4b7f" stroke-width="0.9"/>
<line x1="191.50" y1="418.31" x2="191.50" y2="416.41" stroke="#2f4b7f" stroke-width="0.9"/>
<line x1="194.50" y1="419.40" x2="194.50" y2="417.50" stroke="#2f4b7f" stroke-width="0.9"/>
<line x1="196.50" y1="419.95" x2="196.50" y2="418.05" stroke="#2f4b7f" stroke-width="0.9"/>
<line x1="200.50" y1="421.70" x2="200.50" y2="419.80" stroke="#2f4b7f" stroke-width="0.9"/>
<line x1="203.00" y1="423.44" x2="203.00" y2="421.54" stroke="#2f4b7f" stroke-width="0.9"/>
<line x1="205.50" y1="425.05" x2="205.50" y2="423.15" stroke="#2f4b7f" stroke-width="0.9"/>
<line x1="208.50" y1="426.08" x2="208.50" y2="424.18" stroke="#2f4b7f" stroke-width="0.9"/>
<line x1="212.00" y1="426.73" x2="212.00" y2="424.83" stroke="#2f4b7f" stroke-width="0.9"/>
<line x1="215.50" y1="427.41" x2="215.50" y2="425.51" stroke="#2f4b7f" stroke-width="0.9"/>
<line x1="218.00" y1="427.70" x2="218.00" y2="425.80" stroke="#2f4b7f" stroke-width="0.9"/>
<line x1="219.50" y1="427.70" x2="219.50" y2="425.80" stroke="#2f4b7f" stroke-width="0.9"/>
<line x1="221.00" y1="427.70" x2="221.00" y2="425.80" stroke="#2f4b7f" stroke-width="0.9"/>
<line x1="222.50" y1="427.70" x2="222.50" y2="425.80" stroke="#2f4b7f" stroke-width="0.9"/>
<line x1="224.50" y1="427.70" x2="224.50" y2="425.80" stroke="#2f4b7f" stroke-width="0.9"/>
<line x1="226.00" y1="427.70" x2="226.00" y2="425.80" stroke="#2f4b7f" stroke-width="0.9"/>
<line x1="227.50" y1="427.70" x2="227.50" y2="425.80" stroke="#2f4b7f" stroke-width="0.9"/>
<line x1="229.50" y1="427.70" x2="229.50" y2="425.80" stroke="#2f4b7f" stroke-width="0.9"/>
<line x1="231.50" y1="427.70" x2="231.50" y2="425.80" stroke="#2f4b7f" stroke-width="0.9"/>
<line x1="233.50" y1="427.70" x2="233.50" y2="425.80" stroke="#2f4b7f" stroke-width="0.9"/>
<line x1="238.50" y1="431.20" x2="238.50" y2="429.30" stroke="#2f4b7f" stroke-width="0.9"/>
<line x1="240.00" y1="431.20" x2="240.00" y2="429.30" stroke="#2f4b7f" stroke-width="0.9"/>
<line x1="242.00" y1="432.24" x2="242.00" y2="430.34" stroke="#2f4b7f" stroke-width="0.9"/>
<line x1="244.50" y1="433.80" x2="244.50" y2="431.90" stroke="#2f4b7f" stroke-width="0.9"/>
<line x1="245.50" y1="433.80" x2="245.50" y2="431.90" stroke="#2f4b7f" stroke-width="0.9"/>
<line x1="246.50" y1="433.80" x2="246.50" y2="431.90" stroke="#2f4b7f" stroke-width="0.9"/>
<line x1="247.50" y1="433.80" x2="247.50" y2="431.90" stroke="#2f4b7f" stroke-width="0.9"/>
<line x1="272.00" y1="443.00" x2="272.00" y2="441.10" stroke="#2f4b7f" stroke-width="0.9"/>
<line x1="274.50" y1="447.00" x2="274.50" y2="445.10" stroke="#2f4b7f" stroke-width="0.9"/>
<line x1="253.00" y1="439.00" x2="253.00" y2="437.30" stroke="#2f4b7f" stroke-width="0.9"/>
<line x1="256.50" y1="439.00" x2="256.50" y2="437.30" stroke="#2f4b7f" stroke-width="0.9"/>
<line x1="259.50" y1="439.00" x2="259.50" y2="437.30" stroke="#2f4b7f" stroke-width="0.9"/>
<line x1="265.50" y1="439.00" x2="265.50" y2="437.30" stroke="#2f4b7f" stroke-width="0.9"/>
<line x1="267.00" y1="439.00" x2="267.00" y2="437.30" stroke="#2f4b7f" stroke-width="0.9"/>
<line x1="281.00" y1="452.30" x2="281.00" y2="450.60" stroke="#2f4b7f" stroke-width="0.9"/>
<line x1="284.50" y1="452.30" x2="284.50" y2="450.60" stroke="#2f4b7f" stroke-width="0.9"/>
<line x1="288.50" y1="452.30" x2="288.50" y2="450.60" stroke="#2f4b7f" stroke-width="0.9"/>
<line x1="292.50" y1="452.30" x2="292.50" y2="450.60" stroke="#2f4b7f" stroke-width="0.9"/>
<line x1="293.80" y1="409.60" x2="302.30" y2="409.60" stroke="#a9082f" stroke-width="1.0"/>
<line x1="298.00" y1="409.60" x2="298.00" y2="407.40" stroke="#a9082f" stroke-width="0.9"/>
<text x="305.30" y="410.30" font-size="7.55" text-anchor="start" font-weight="normal" fill="#0a0a0a" stroke="#0a0a0a" stroke-width="0.12">CH (n=44)</text>
<line x1="293.80" y1="420.60" x2="302.30" y2="420.60" stroke="#2f4b7f" stroke-width="1.0"/>
<line x1="298.00" y1="420.60" x2="298.00" y2="418.40" stroke="#2f4b7f" stroke-width="0.9"/>
<text x="305.30" y="421.40" font-size="7.55" text-anchor="start" font-weight="normal" fill="#0a0a0a" stroke="#0a0a0a" stroke-width="0.12">no CH (n=101)</text>
</svg>
</body></html>
